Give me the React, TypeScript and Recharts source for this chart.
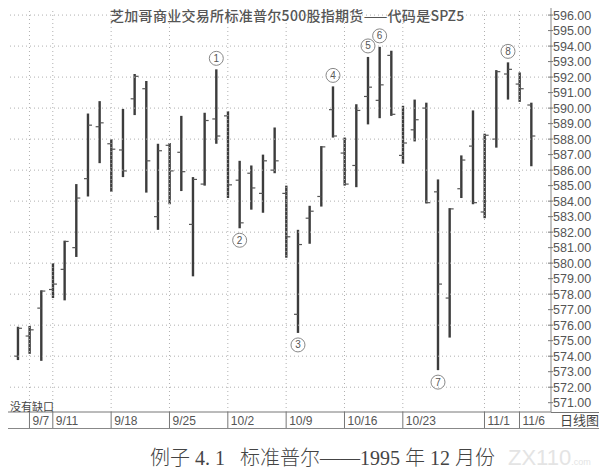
import { ComposedChart, Bar, XAxis, YAxis, ReferenceLine } from 'recharts';

// trading days, 9/6 .. 11/7 1995
const dates = [
  '9/6', '9/7', '9/8', '9/11', '9/12', '9/13', '9/14', '9/15', '9/18', '9/19',
  '9/20', '9/21', '9/22', '9/25', '9/26', '9/27', '9/28', '9/29', '10/2', '10/3',
  '10/4', '10/5', '10/6', '10/9', '10/10', '10/11', '10/12', '10/13', '10/16', '10/17',
  '10/18', '10/19', '10/20', '10/23', '10/24', '10/25', '10/26', '10/27', '10/30', '10/31',
  '11/1', '11/2', '11/3', '11/6', '11/7',
];
const highs = [
  575.9, 575.95, 578.25, 580.0, 581.45, 585.1, 589.65, 590.45, 588.0, 589.95,
  592.2, 591.75, 587.7, 587.75, 589.5, 585.55, 589.7, 592.5, 589.8, 586.6,
  586.3, 587.0, 588.75, 585.0, 582.15, 583.7, 587.55, 591.4, 588.1, 590.25,
  593.3, 593.95, 593.7, 590.15, 590.55, 590.35, 585.4, 583.55, 586.95, 589.85,
  588.35, 592.45, 592.95, 592.3, 590.35,
];
const lows = [
  573.75, 574.15, 573.7, 577.75, 577.6, 580.4, 584.3, 586.45, 584.6, 585.55,
  589.55, 584.55, 582.15, 583.8, 584.65, 579.15, 585.0, 587.7, 584.2, 582.25,
  583.45, 583.25, 585.8, 580.35, 575.5, 581.25, 583.65, 588.1, 585.0, 584.9,
  588.95, 589.35, 589.5, 586.4, 587.85, 583.85, 573.1, 575.2, 584.2, 583.8,
  582.9, 587.45, 590.55, 590.4, 586.25,
];
const opens = [
  574.0, 575.3, 577.1, 578.3, 579.6, 581.0, 585.45, 588.8, 587.7, 587.3,
  590.6, 591.25, 583.0, 587.6, 587.15, 582.5, 585.1, 589.3, 589.5, 585.35,
  585.8, 584.5, 586.0, 584.5, 576.7, 582.9, 584.3, 589.9, 587.1, 586.3,
  590.75, 590.5, 593.4, 586.95, 588.6, 590.0, 584.6, 577.75, 584.8, 587.55,
  583.3, 588.0, 592.2, 591.55, 590.2,
];
const closes = [
  575.8, 575.7, 578.2, 578.65, 581.4, 584.2, 588.9, 589.05, 587.35, 585.95,
  592.05, 586.6, 587.25, 585.95, 585.9, 585.4, 589.2, 588.2, 585.05, 582.6,
  584.85, 586.6, 586.6, 581.7, 581.2, 583.35, 587.5, 588.2, 585.1, 589.85,
  591.35, 591.5, 589.6, 587.75, 589.25, 583.9, 578.65, 583.5, 586.65, 583.9,
  588.25, 592.35, 592.5, 591.25, 588.2,
];

// labelled days on the time strip
const dateLabels = ['9/7', '9/11', '9/18', '9/25', '10/2', '10/9', '10/16', '10/23', '11/1', '11/6'];
const priceTicks = [
  571, 572, 573, 574, 575, 576, 577, 578, 579, 580, 581, 582, 583,
  584, 585, 586, 587, 588, 589, 590, 591, 592, 593, 594, 595, 596,
];
const gridLevels = [572, 574, 576, 578, 580, 582, 584, 586, 588, 590, 592, 594, 596];

// circled swing points
const swingMarks = [
  { date: '9/29', n: '1', side: 'top' },
  { date: '10/3', n: '2', side: 'bottom' },
  { date: '10/10', n: '3', side: 'bottom' },
  { date: '10/13', n: '4', side: 'top' },
  { date: '10/18', n: '5', side: 'top' },
  { date: '10/19', n: '6', side: 'top' },
  { date: '10/26', n: '7', side: 'bottom' },
  { date: '11/3', n: '8', side: 'top' },
];

const rows = dates.map((d, i) => ({
  idx: i,
  date: d,
  range: [lows[i], highs[i]],
  high: highs[i],
  low: lows[i],
  open: opens[i],
  close: closes[i],
  mark: swingMarks.find((m) => m.date === d),
}));

const labelIdx = dateLabels.map((d) => dates.indexOf(d));
const PRICE_DOMAIN = [570.4, 596.65];

// ruler marks on the left edge
const rulerTicks = Array.from({ length: 131 }, (_, i) => Math.round((570.6 + i * 0.2) * 10) / 10);

const INK = '#3c3c3c';

function HlcBar(props: any) {
  const { x, y, width, height, payload } = props;
  const cx = x + width / 2;
  const top = Math.min(y, y + height);
  const bot = Math.max(y, y + height);
  const span = payload.high - payload.low || 1;
  const toY = (v: number) => top + ((payload.high - v) / span) * (bot - top);
  const oy = toY(payload.open);
  const cy = toY(payload.close);
  const m = payload.mark;
  let circle = null;
  if (m) {
    const my = m.side === 'top' ? top - 11 : bot + 12;
    circle = (
      <g>
        <circle cx={cx} cy={my} r={7} fill="#fff" stroke="#888" strokeWidth={1} />
        <text x={cx} y={my + 3.5} textAnchor="middle" fontSize={10} fill="#555" fontFamily="Liberation Sans, Arial, sans-serif">
          {m.n}
        </text>
      </g>
    );
  }
  return (
    <g>
      <line x1={cx} x2={cx} y1={top} y2={bot} stroke={INK} strokeWidth={2.4} />
      <line x1={cx - 4} x2={cx} y1={oy} y2={oy} stroke="#555" strokeWidth={1.2} />
      <line x1={cx} x2={cx + 4} y1={cy} y2={cy} stroke="#555" strokeWidth={1.2} />
      {circle}
    </g>
  );
}

function DateTick(props: any) {
  const { x, y, payload } = props;
  const label = dates[Math.round(payload.value)];
  if (!label) return null;
  return (
    <g>
      <line x1={x} x2={x} y1={y} y2={y + 16} stroke="#777" strokeWidth={1} />
      <text x={x + 3} y={y + 12.5} fontSize={12} fill="#555" fontFamily="Liberation Sans, Arial, sans-serif">
        {label}
      </text>
    </g>
  );
}

function PriceTick(props: any) {
  const { x, y, payload } = props;
  return (
    <g>
      <line x1={x - 3} x2={x + 2} y1={y} y2={y} stroke="#777" strokeWidth={1} />
      <text x={x + 2} y={y + 4.5} fontSize={12.5} fill="#555" fontFamily="Liberation Sans, Arial, sans-serif">
        {Number(payload.value).toFixed(2)}
      </text>
    </g>
  );
}

export default function App() {
  return (
    <div
      style={{
        position: 'relative',
        width: 607,
        height: 475,
        margin: -8,
        background: '#fff',
        fontFamily: "'Liberation Sans', 'Noto Sans CJK SC', sans-serif",
      }}
    >
      <ComposedChart
        width={607}
        height={440}
        data={rows}
        margin={{ top: 5, right: 6, bottom: 12, left: 8 }}
        style={{ position: 'absolute', left: 0, top: 0 }}
      >
        <XAxis
          dataKey="idx"
          type="number"
          domain={[-0.84, 45.7]}
          allowDataOverflow
          ticks={labelIdx}
          interval={0}
          height={16}
          tickSize={0}
          tickMargin={0}
          tickLine={false}
          axisLine={{ stroke: '#777' }}
          tick={<DateTick />}
        />
        <YAxis
          yAxisId="l"
          orientation="left"
          width={0}
          mirror
          type="number"
          domain={PRICE_DOMAIN}
          allowDataOverflow
          ticks={rulerTicks}
          tick={false}
          tickSize={3}
          tickLine={{ stroke: '#bbb' }}
          axisLine={false}
        />
        <YAxis
          yAxisId="r"
          orientation="right"
          width={50}
          type="number"
          domain={PRICE_DOMAIN}
          allowDataOverflow
          ticks={priceTicks}
          interval={0}
          tickSize={0}
          tickMargin={0}
          tickLine={false}
          axisLine={{ stroke: '#888' }}
          tick={<PriceTick />}
        />
        {gridLevels.map((v) => (
          <ReferenceLine key={'h' + v} yAxisId="r" y={v} stroke="#b0b0b0" strokeDasharray="1 3" />
        ))}
        {labelIdx.map((i) => (
          <ReferenceLine key={'v' + i} yAxisId="r" x={i} stroke="#b0b0b0" strokeDasharray="1 3" />
        ))}
        <Bar yAxisId="r" dataKey="range" barSize={4} isAnimationActive={false} shape={(p: any) => <HlcBar {...p} />} />
      </ComposedChart>

      {/* outer frame and strip line under the price scale */}
      <div style={{ position: 'absolute', left: 7, top: 4, width: 594, height: 425, border: '1px solid #888', boxSizing: 'border-box', pointerEvents: 'none' }} />
      <div style={{ position: 'absolute', left: 551, top: 412, width: 50, height: 1, background: '#777' }} />

      <div
        style={{
          position: 'absolute',
          left: 110,
          top: 6,
          fontSize: 14,
          lineHeight: '18px',
          fontWeight: 500,
          color: '#555',
          whiteSpace: 'nowrap',
          fontFamily: "'Noto Sans CJK SC', sans-serif",
          letterSpacing: 0.3,
        }}
      >
        芝加哥商业交易所标准普尔500股指期货——代码是SPZ5
      </div>
      <div style={{ position: 'absolute', left: 10, top: 400, fontSize: 11, lineHeight: '13px', color: '#444', fontFamily: "'Noto Sans CJK SC', sans-serif" }}>
        没有缺口
      </div>
      <div style={{ position: 'absolute', left: 560, top: 412, fontSize: 13, lineHeight: '16px', color: '#444', fontFamily: "'Noto Sans CJK SC', sans-serif" }}>
        日线图
      </div>
      <div
        style={{
          position: 'absolute',
          left: 150,
          top: 445,
          fontSize: 20,
          lineHeight: '26px',
          color: '#444',
          whiteSpace: 'pre',
          fontWeight: 300,
          letterSpacing: 0,
          fontFamily: "'Liberation Serif', 'Noto Sans CJK SC', serif",
        }}
      >
        例子 4. 1   标准普尔——1995 年 12 月份
      </div>
      <div style={{ position: 'absolute', left: 508, top: 446, fontSize: 22, lineHeight: '24px', color: '#e4e4e4', fontFamily: "'Liberation Sans', sans-serif" }}>
        ZX110<span style={{ fontSize: 9 }}>.com</span>
      </div>
    </div>
  );
}
